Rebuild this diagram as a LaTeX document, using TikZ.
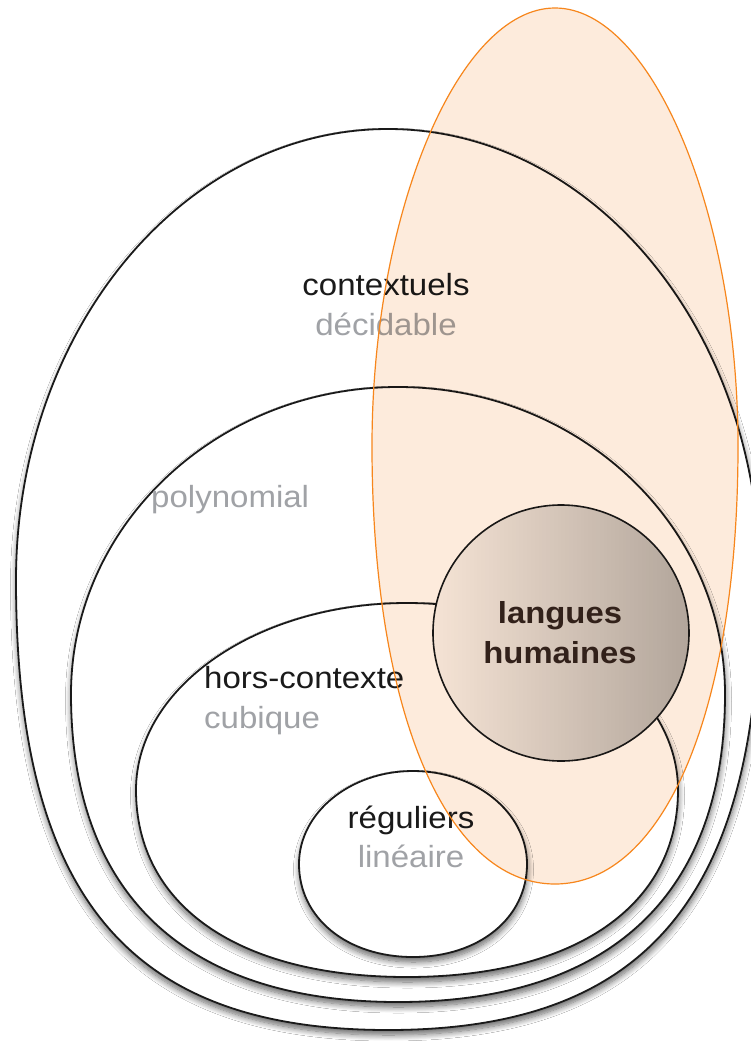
\documentclass[tikz,border=0pt]{standalone}
\usepackage{fontspec}
\setmainfont[FakeStretch=1.08]{Liberation Sans}
\usetikzlibrary{shadows.blur}

\definecolor{ink}{HTML}{1A1A1A}
\definecolor{soft}{HTML}{A0A2A6}
\definecolor{rim}{HTML}{F7861C}
\definecolor{peach}{HTML}{FDEBDC}
\definecolor{hilite}{HTML}{F7F7F7}
\definecolor{lowlite}{HTML}{B4B4B4}
\definecolor{brownink}{HTML}{33241F}

% Oval with an elliptic top half and a fuller bottom half.
% #1,#2 centre; #3 half width; #4 top height; #5 bottom height;
% #6 top roundness; #7 bottom roundness (0.552 = true ellipse)
\newcommand\eggoutline[7]{%
  ({#1-#3},{#2})
  .. controls ({#1-#3},{#2-#6*#4}) and ({#1-#6*#3},{#2-#4}) .. ({#1},{#2-#4})
  .. controls ({#1+#6*#3},{#2-#4}) and ({#1+#3},{#2-#6*#4}) .. ({#1+#3},{#2})
  .. controls ({#1+#3},{#2+#7*#5}) and ({#1+#7*#3},{#2+#5}) .. ({#1},{#2+#5})
  .. controls ({#1-#7*#3},{#2+#5}) and ({#1-#3},{#2+#7*#5}) .. cycle}

\begin{document}
\begin{tikzpicture}[x=1bp,y=-1bp,
  setbox/.style={draw=ink, line width=1.8bp, fill=white,
    blur shadow={shadow xshift=0.5bp, shadow yshift=-5bp,
      shadow blur radius=6bp, shadow blur steps=10, shadow opacity=60}},
  label/.style={text=ink, inner sep=0pt, font=\fontsize{30.7}{40}\selectfont},
  sublabel/.style={label, text=soft},
  boldlabel/.style={label, text=brownink, font=\fontsize{30.5}{40}\selectfont\bfseries},
  tinted/.style={fill=peach, blend mode=multiply},
  tintrim/.style={draw=rim, line width=1.2bp}]

\useasboundingbox (0,0) rectangle (751,1041);
\fill[white] (0,0) rectangle (751,1041);

% nested language classes
\path[setbox] \eggoutline{388}{580}{372}{451}{450}{0.552}{0.70};
\path[setbox] \eggoutline{398}{694}{327}{307}{308}{0.552}{0.65};
\path[setbox] \eggoutline{407}{790}{271}{187}{187}{0.552}{0.62};
\path[setbox] \eggoutline{413}{864}{114}{93}{93}{0.552}{0.58};

% human languages
\draw[draw=ink, line width=1.6bp, left color=hilite, right color=lowlite]
  (561,633) circle[radius=128];

% labels
\node[label, anchor=base] (ctx) at (386,295) {contextuels};
\node[sublabel, anchor=base] (ctxc) at (386,335) {décidable};
\node[sublabel, anchor=base west] (poly) at (151,507) {polynomial};
\node[label, anchor=base west] (cf) at (204,688) {hors-contexte};
\node[sublabel, anchor=base west] (cfc) at (204,728) {cubique};
\node[label, anchor=base] (reg) at (411,828) {réguliers};
\node[sublabel, anchor=base] (regc) at (411,867) {linéaire};
\node[boldlabel, anchor=base] (hum1) at (560,623) {langues};
\node[boldlabel, anchor=base] (hum2) at (560,663) {humaines};

% tinted region laid over everything
\begin{scope}
  \path[tinted] \eggoutline{555}{446}{183}{438}{438}{0.53}{0.60};
\end{scope}
\path[tintrim] \eggoutline{555}{446}{183}{438}{438}{0.53}{0.60};

\end{tikzpicture}
\end{document}
